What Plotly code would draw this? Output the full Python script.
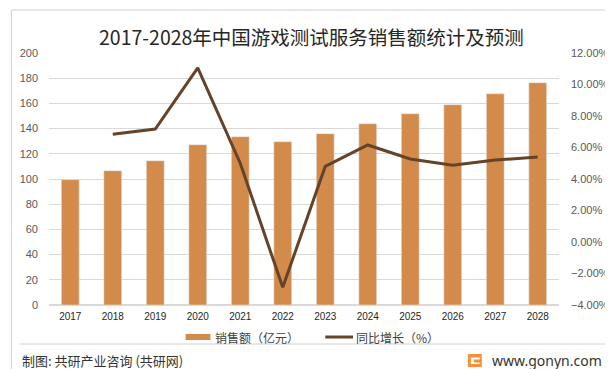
import plotly.graph_objects as go

years = ["2017", "2018", "2019", "2020", "2021", "2022", "2023", "2024", "2025", "2026", "2027", "2028"]
sales = [99.5, 106.6, 114.5, 127.2, 133.6, 129.6, 136.0, 143.9, 151.8, 159.0, 167.7, 176.4]
growth = [None, 6.84, 7.17, 11.05, 5.0, -2.88, 4.8, 6.16, 5.27, 4.87, 5.2, 5.4]

title_text = "2017-2028年中国游戏测试服务销售额统计及预测"
bar_name = "销售额（亿元）"
line_name = "同比增长（%）"
source_text = "制图: 共研产业咨询 (共研网)"
site_text = "www.gonyn.com"

BAR_COLOR = "#D38B4C"
LINE_COLOR = "#654329"
W, H = 613, 369
L, R, T, B = 40, 555, 45, 297


def px(x):
    return (x - L) / (R - L)


def py(y):
    return (B - y) / (B - T)


fig = go.Figure()
fig.add_trace(go.Bar(x=years, y=sales, name=bar_name, marker_color=BAR_COLOR,
                     showlegend=False, hoverinfo="skip"))
fig.add_trace(go.Scatter(x=years, y=growth, name=line_name, yaxis="y2", mode="lines",
                         line=dict(color=LINE_COLOR, width=3), showlegend=False,
                         connectgaps=False))

shapes = [
    # outer border
    dict(type="rect", xref="paper", yref="paper", x0=px(2), x1=px(W - 3), y0=py(H - 3), y1=py(2),
         line=dict(color="#d0d0d0", width=1), fillcolor="rgba(0,0,0,0)", layer="below"),
    # footer separator
    dict(type="line", xref="paper", yref="paper", x0=px(10), x1=px(W - 8), y0=py(336), y1=py(336),
         line=dict(color="#d0d0d0", width=1)),
    # legend swatches
    dict(type="rect", xref="paper", yref="paper", x0=px(178), x1=px(203), y0=py(332), y1=py(326),
         line=dict(width=0), fillcolor=BAR_COLOR),
    dict(type="line", xref="paper", yref="paper", x0=px(319), x1=px(347), y0=py(329), y1=py(329),
         line=dict(color=LINE_COLOR, width=3)),
    # logo
    dict(type="rect", xref="paper", yref="paper", x0=px(463), x1=px(477), y0=py(359), y1=py(346),
         line=dict(width=0), fillcolor="#F4913E"),
    dict(type="rect", xref="paper", yref="paper", x0=px(466), x1=px(475), y0=py(356), y1=py(349.5),
         line=dict(width=0), fillcolor="#ffffff"),
    dict(type="rect", xref="paper", yref="paper", x0=px(469), x1=px(477), y0=py(354.5), y1=py(351.5),
         line=dict(width=0), fillcolor="#F4913E"),
]

annotations = [
    dict(text=title_text, xref="paper", yref="paper", x=px(305), y=py(28), xanchor="center",
         yanchor="middle", showarrow=False,
         font=dict(family="Noto Sans CJK SC", size=19.5, color="#262626")),
    dict(text=bar_name, xref="paper", yref="paper", x=px(206), y=py(329), xanchor="left",
         yanchor="middle", showarrow=False,
         font=dict(family="Noto Sans CJK SC", size=12, color="#404040")),
    dict(text=line_name, xref="paper", yref="paper", x=px(348), y=py(329), xanchor="left",
         yanchor="middle", showarrow=False,
         font=dict(family="Noto Sans CJK SC", size=12, color="#404040")),
    dict(text=source_text, xref="paper", yref="paper", x=px(11), y=py(352), xanchor="left",
         yanchor="middle", showarrow=False,
         font=dict(family="Noto Sans CJK SC", size=13, color="#333333")),
    dict(text=site_text, xref="paper", yref="paper", x=px(485), y=py(352), xanchor="left",
         yanchor="middle", showarrow=False,
         font=dict(family="Noto Sans", size=14, color="#333333")),
]

fig.update_layout(
    width=W, height=H,
    margin=dict(l=L, r=W - R, t=T, b=H - B),
    paper_bgcolor="white", plot_bgcolor="white",
    bargap=0.58,
    shapes=shapes, annotations=annotations,
    xaxis=dict(type="category", showgrid=False, showline=False, ticks="",
               ticklabelstandoff=4,
               tickfont=dict(family="Liberation Sans", size=10, color="#262626")),
    yaxis=dict(range=[0, 200], dtick=20, showgrid=True, gridcolor="#d9d9d9", gridwidth=1,
               zeroline=True, zerolinecolor="#d9d9d9", showline=False, ticks="",
               ticklabelstandoff=10,
               tickfont=dict(family="Liberation Sans", size=11, color="#595959")),
    yaxis2=dict(range=[-4, 12], dtick=2, overlaying="y", side="right", showgrid=False,
                zeroline=False, showline=False, ticks="", tickformat=".2f", ticksuffix="%",
                ticklabelstandoff=11,
                tickfont=dict(family="Liberation Sans", size=11, color="#595959")),
    showlegend=False,
)

fig.write_html("out.html")
